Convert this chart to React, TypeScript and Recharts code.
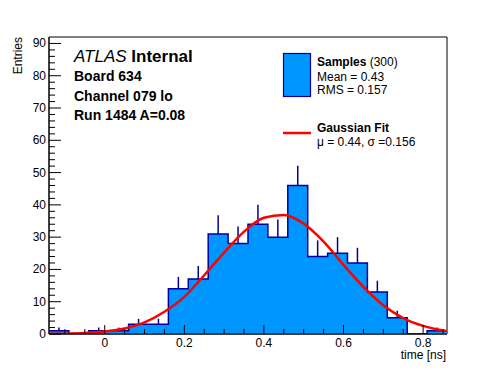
import React from "react"
import {
  ComposedChart, Area, Line, Scatter, ErrorBar, XAxis, YAxis, ReferenceArea,
} from "recharts"

// histogram: lower bin edges (width 0.05) and entries per bin
const binLow = [-0.14, -0.09, -0.04, 0.01, 0.06, 0.11, 0.16, 0.21, 0.26, 0.31, 0.36, 0.41, 0.46, 0.51, 0.56, 0.61, 0.66, 0.71, 0.76, 0.81]
const counts = [1, 0, 1, 1, 3, 3, 14, 17, 31, 28, 34, 30, 46, 24, 25, 22, 13, 5, 0, 1]
const upErr = [1, 0, 1, 1, 1.7, 1.7, 3.7, 4.1, 5.8, 5.3, 6.0, 5.5, 6.1, 5.0, 5.0, 4.7, 3.5, 2.2, 0, 1]
const xMax = 0.86
const binWidth = 0.05

// gaussian fit curve
const fitX = [-0.14, -0.1, -0.05, 0, 0.05, 0.1, 0.15, 0.2, 0.25, 0.3, 0.35, 0.4, 0.45, 0.5, 0.55, 0.6, 0.65, 0.7, 0.75, 0.8, 0.85, 0.86]
const fitY = [0.05, 0.1, 0.3, 0.75, 1.7, 3.6, 6.9, 11.5, 18.2, 25.2, 31.7, 36.0, 36.9, 34.2, 28.6, 21.4, 14.6, 8.9, 4.9, 2.5, 1.1, 0.95]

const xTicks = [-0.1, -0.05, 0, 0.05, 0.1, 0.15, 0.2, 0.25, 0.3, 0.35, 0.4, 0.45, 0.5, 0.55, 0.6, 0.65, 0.7, 0.75, 0.8, 0.85]
const yTicks = [0, 2, 4, 6, 8, 10, 12, 14, 16, 18, 20, 22, 24, 26, 28, 30, 32, 34, 36, 38, 40, 42, 44, 46, 48, 50, 52, 54, 56, 58, 60, 62, 64, 66, 68, 70, 72, 74, 76, 78, 80, 82, 84, 86, 88, 90]
const yMax = 92

const FONT = "'Liberation Sans', Arial, Helvetica, sans-serif"
const FILL = "#0096ff"
const EDGE = "#000099"

const histData = [
  ...binLow.map((x, i) => ({ x, y: counts[i] })),
  { x: xMax, y: counts[counts.length - 1] },
]
const errData = binLow.map((x, i) => ({ x: x + binWidth / 2, y: counts[i], err: [0, upErr[i]] }))
const fitData = fitX.map((x, i) => ({ x, y: fitY[i] }))

function XTick(props: any) {
  const { x, y, payload } = props
  const v = payload.value
  const major = Math.abs(v * 5 - Math.round(v * 5)) < 1e-6
  return (
    <g>
      <line x1={x} x2={x} y1={y} y2={y - (major ? 9 : 5)} stroke="#000" />
      {major && (
        <text x={x} y={y + 13} textAnchor="middle" fontSize={12} fontFamily={FONT} fill="#000">
          {String(Math.round(v * 10) / 10)}
        </text>
      )}
    </g>
  )
}

function YTick(props: any) {
  const { x, y, payload } = props
  const v = payload.value
  const major = v % 10 === 0
  return (
    <g>
      <line x1={x} x2={x + (major ? 12 : 6)} y1={y} y2={y} stroke="#000" />
      {major && (
        <text x={x - 3} y={y + 4} textAnchor="end" fontSize={12} fontFamily={FONT} fill="#000">
          {v}
        </text>
      )}
    </g>
  )
}

export default function App() {
  return (
    <div style={{ position: "absolute", left: 0, top: 0, width: 496, height: 372, background: "#fff" }}>
      <ComposedChart width={496} height={372} margin={{ top: 37, right: 49, left: 19, bottom: 0 }}>
        <XAxis
          dataKey="x"
          type="number"
          domain={[-0.14, xMax]}
          ticks={xTicks}
          interval={0}
          allowDataOverflow
          tickSize={0}
          tickMargin={0}
          tickLine={false}
          tick={<XTick />}
          axisLine={{ stroke: "#000" }}
          height={38}
        />
        <YAxis
          type="number"
          domain={[0, yMax]}
          ticks={yTicks}
          interval={0}
          allowDataOverflow
          tickSize={0}
          tickMargin={0}
          tickLine={false}
          tick={<YTick />}
          axisLine={{ stroke: "#000" }}
          width={30}
        />
        <ReferenceArea x1={-0.14} x2={xMax} y1={0} y2={yMax} fill="none" stroke="#000" strokeWidth={1} />
        <Area
          data={histData}
          dataKey="y"
          type="stepAfter"
          fill={FILL}
          fillOpacity={1}
          stroke={EDGE}
          strokeWidth={1.5}
          dot={false}
          activeDot={false}
          isAnimationActive={false}
        />
        <Scatter data={errData} dataKey="y" shape={() => <g />} isAnimationActive={false}>
          <ErrorBar dataKey="err" direction="y" width={0} stroke={EDGE} strokeWidth={1.5} />
        </Scatter>
        <Line
          data={fitData}
          dataKey="y"
          type="monotone"
          stroke="#ff0000"
          strokeWidth={2.5}
          dot={false}
          activeDot={false}
          isAnimationActive={false}
        />
      </ComposedChart>
      <svg width={496} height={372} style={{ position: "absolute", left: 0, top: 0, pointerEvents: "none" }} fontFamily={FONT}>
        <text x={74} y={62} fontSize={17}>
          <tspan fontStyle="italic">ATLAS</tspan>
          <tspan fontWeight="bold"> Internal</tspan>
        </text>
        <text x={74} y={81} fontSize={14} fontWeight="bold">Board 634</text>
        <text x={74} y={101} fontSize={14} fontWeight="bold">Channel 079 lo</text>
        <text x={74} y={120} fontSize={14} fontWeight="bold">Run 1484 A=0.08</text>

        <rect x={283.5} y={53.5} width={27} height={43} fill={FILL} stroke={EDGE} strokeWidth={1.2} />
        <text x={317} y={66} fontSize={12}>
          <tspan fontWeight="bold">Samples</tspan>
          <tspan> (300)</tspan>
        </text>
        <text x={317} y={80.5} fontSize={12}>Mean = 0.43</text>
        <text x={317} y={93.5} fontSize={12}>RMS = 0.157</text>
        <line x1={283} x2={311} y1={133} y2={133} stroke="#ff0000" strokeWidth={2.5} />
        <text x={317} y={131.5} fontSize={12} fontWeight="bold">Gaussian Fit</text>
        <text x={317} y={146} fontSize={12}>μ = 0.44, σ =0.156</text>

        <text x={22} y={37} fontSize={12} textAnchor="end" transform="rotate(-90 22 37)">Entries</text>
        <text x={446} y={359} fontSize={12} textAnchor="end">time [ns]</text>
      </svg>
    </div>
  )
}
